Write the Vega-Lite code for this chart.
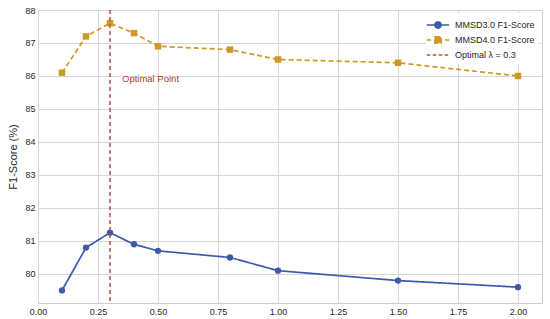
{
  "$schema": "https://vega.github.io/schema/vega-lite/v6.json",
  "width": 504,
  "height": 293,
  "autosize": "none",
  "padding": {"left": 38, "top": 10, "right": 8, "bottom": 16},
  "background": "white",
  "config": {
    "font": "Liberation Sans",
    "view": {"stroke": "#cfcfcf", "strokeWidth": 1},
    "axis": {
      "grid": true,
      "gridColor": "#d6d6d6",
      "gridWidth": 1,
      "domain": false,
      "ticks": false,
      "labelColor": "#262626",
      "labelFontSize": 9,
      "labelFlush": false,
      "labelOverlap": false,
      "titleColor": "#262626",
      "titleFontWeight": "normal"
    }
  },
  "datasets": {
    "scores": [
      {"lambda": 0.1, "f1": 79.5, "series": "MMSD3.0 F1-Score"},
      {"lambda": 0.2, "f1": 80.8, "series": "MMSD3.0 F1-Score"},
      {"lambda": 0.3, "f1": 81.25, "series": "MMSD3.0 F1-Score"},
      {"lambda": 0.4, "f1": 80.9, "series": "MMSD3.0 F1-Score"},
      {"lambda": 0.5, "f1": 80.7, "series": "MMSD3.0 F1-Score"},
      {"lambda": 0.8, "f1": 80.5, "series": "MMSD3.0 F1-Score"},
      {"lambda": 1.0, "f1": 80.1, "series": "MMSD3.0 F1-Score"},
      {"lambda": 1.5, "f1": 79.8, "series": "MMSD3.0 F1-Score"},
      {"lambda": 2.0, "f1": 79.6, "series": "MMSD3.0 F1-Score"},
      {"lambda": 0.1, "f1": 86.1, "series": "MMSD4.0 F1-Score"},
      {"lambda": 0.2, "f1": 87.2, "series": "MMSD4.0 F1-Score"},
      {"lambda": 0.3, "f1": 87.6, "series": "MMSD4.0 F1-Score"},
      {"lambda": 0.4, "f1": 87.3, "series": "MMSD4.0 F1-Score"},
      {"lambda": 0.5, "f1": 86.9, "series": "MMSD4.0 F1-Score"},
      {"lambda": 0.8, "f1": 86.8, "series": "MMSD4.0 F1-Score"},
      {"lambda": 1.0, "f1": 86.5, "series": "MMSD4.0 F1-Score"},
      {"lambda": 1.5, "f1": 86.4, "series": "MMSD4.0 F1-Score"},
      {"lambda": 2.0, "f1": 86.0, "series": "MMSD4.0 F1-Score"}
    ],
    "optimal": [
      {"lambda": 0.3, "series": "Optimal λ = 0.3"}
    ],
    "note": [
      {"lambda": 0.35, "f1": 85.9, "label": "Optimal Point"}
    ]
  },
  "layer": [
    {
      "data": {"name": "scores"},
      "mark": {"type": "line", "strokeWidth": 1.7},
      "encoding": {
        "x": {
          "field": "lambda", "type": "quantitative",
          "scale": {"domain": [0, 2.1], "nice": false, "zero": false},
          "axis": {"values": [0, 0.25, 0.5, 0.75, 1, 1.25, 1.5, 1.75, 2], "tickCount": 20, "format": ".2f", "title": null, "labelPadding": 4}
        },
        "y": {
          "field": "f1", "type": "quantitative",
          "scale": {"domain": [79.12, 88.0], "nice": false, "zero": false},
          "axis": {"values": [80, 81, 82, 83, 84, 85, 86, 87, 88], "tickCount": 20, "format": "d", "title": "F1-Score (%)", "titleFontSize": 11, "titlePadding": 6, "labelPadding": 3}
        },
        "color": {
          "field": "series", "type": "nominal",
          "scale": {"domain": ["MMSD3.0 F1-Score", "MMSD4.0 F1-Score", "Optimal λ = 0.3"], "range": ["#3a5ca8", "#cc9a25", "#b5503f"]},
          "legend": {
            "title": null,
            "orient": "top-right",
            "offset": 3,
            "labelFontSize": 9,
            "labelColor": "#262626",
            "symbolSize": 196,
            "symbolStrokeWidth": 1.5,
            "rowPadding": 0,
            "labelOffset": 9,
            "padding": 4,
            "fillColor": "white",
            "encode": {
              "symbols": {
                "update": {
                  "shape": {"signal": "datum.value == 'MMSD3.0 F1-Score' ? 'M-1.6,0L1.6,0M0.45,0A0.45,0.45,0,1,1,-0.45,0A0.45,0.45,0,1,1,0.45,0Z' : datum.value == 'MMSD4.0 F1-Score' ? 'M-1.6,0L-1.0,0M-0.6,0L0.6,0M1.0,0L1.6,0M-0.45,-0.45L0.45,-0.45L0.45,0.45L-0.45,0.45Z' : 'M-1.6,0L-1.1,0M-0.75,0L-0.25,0M0.1,0L0.6,0M0.95,0L1.45,0'"},
                  "size": {"value": 196},
                  "strokeDash": {"value": [1, 0]},
                  "fill": {"signal": "scale('color', datum.value)"},
                  "stroke": {"signal": "scale('color', datum.value)"},
                  "strokeWidth": {"value": 1.5},
                  "opacity": {"value": 1}
                }
              }
            }
          }
        },
        "strokeDash": {
          "field": "series", "type": "nominal",
          "scale": {"domain": ["MMSD3.0 F1-Score", "MMSD4.0 F1-Score", "Optimal λ = 0.3"], "range": [[1, 0], [5, 3], [4, 3]]}
        }
      }
    },
    {
      "data": {"name": "scores"},
      "transform": [{"filter": "datum.series == 'MMSD3.0 F1-Score'"}],
      "mark": {"type": "point", "filled": true, "opacity": 1, "shape": "circle", "size": 40},
      "encoding": {
        "x": {"field": "lambda", "type": "quantitative"},
        "y": {"field": "f1", "type": "quantitative"},
        "color": {"field": "series", "type": "nominal"}
      }
    },
    {
      "data": {"name": "scores"},
      "transform": [{"filter": "datum.series == 'MMSD4.0 F1-Score'"}],
      "mark": {"type": "point", "filled": true, "opacity": 1, "shape": "square", "size": 42},
      "encoding": {
        "x": {"field": "lambda", "type": "quantitative"},
        "y": {"field": "f1", "type": "quantitative"},
        "color": {"field": "series", "type": "nominal"}
      }
    },
    {
      "data": {"name": "optimal"},
      "mark": {"type": "rule", "strokeDash": [4, 3], "strokeWidth": 1.5},
      "encoding": {
        "x": {"field": "lambda", "type": "quantitative"},
        "color": {"field": "series", "type": "nominal"}
      }
    },
    {
      "data": {"name": "note"},
      "mark": {"type": "text", "align": "left", "baseline": "middle", "fontSize": 9.5, "color": "#b03a2e"},
      "encoding": {
        "x": {"field": "lambda", "type": "quantitative"},
        "y": {"field": "f1", "type": "quantitative"},
        "text": {"field": "label"}
      }
    }
  ]
}
